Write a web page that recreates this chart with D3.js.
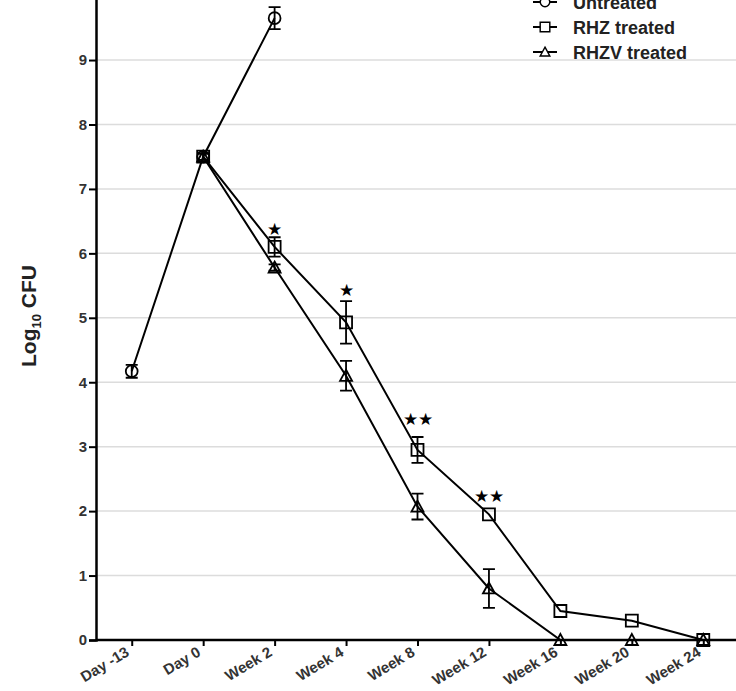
<!DOCTYPE html>
<html>
<head>
<meta charset="utf-8">
<script src="https://cdn.jsdelivr.net/npm/d3@7"></script>
<style>
  body { margin: 0; background: #fff; }
  svg text { font-family: "Liberation Sans", Arial, sans-serif; }
</style>
</head>
<body>
<div class="chart"></div>
<script>
var categories = ["Day -13", "Day 0", "Week 2", "Week 4", "Week 8", "Week 12", "Week 16", "Week 20", "Week 24"];
var yTicks = [0, 1, 2, 3, 4, 5, 6, 7, 8, 9];

// mean log10 CFU and SEM per group
var untreated = [4.17, 7.5, 9.65];
var untreatedErr = [0.1, 0, 0.17];
var untreatedDays = ["Day -13", "Day 0", "Week 2"];

var rhz = [7.5, 6.1, 4.93, 2.95, 1.95, 0.45, 0.3, 0];
var rhzErr = [0.05, 0.15, 0.33, 0.2, 0.03, 0.03, 0.03, 0];
var rhzv = [7.5, 5.78, 4.1, 2.07, 0.8, 0, 0, 0];
var rhzvErr = [0.05, 0.05, 0.23, 0.2, 0.3, 0, 0, 0];
var treatedDays = ["Day 0", "Week 2", "Week 4", "Week 8", "Week 12", "Week 16", "Week 20", "Week 24"];

// significance stars
var starDays = ["Week 2", "Week 4", "Week 8", "Week 12"];
var starLevel = [6.4, 5.45, 3.45, 2.25];
var starCount = [1, 1, 2, 2];

var legendNames = ["Untreated", "RHZ treated", "RHZV treated"];

var width = 736, height = 691;
var svg = d3.select(".chart").append("svg").attr("width", width).attr("height", height);

var x = d3.scalePoint().domain(categories).range([96, 739]).padding(0.5);
var y = d3.scaleLinear().domain([0, 10]).range([640, -4.4]);

// grid
svg.append("g").selectAll("line").data(yTicks.slice(1)).enter().append("line")
    .attr("x1", 97).attr("x2", width)
    .attr("y1", function (d) { return y(d); }).attr("y2", function (d) { return y(d); })
    .attr("stroke", "#dcdcdc").attr("stroke-width", 1.5);

// y axis
var yAxis = svg.append("g").attr("transform", "translate(96,0)")
    .call(d3.axisLeft(y).tickValues(yTicks).tickSize(7).tickPadding(2));
yAxis.select(".domain").attr("stroke-width", 2.5);
yAxis.selectAll(".tick line").attr("stroke-width", 2);
yAxis.selectAll(".tick text").attr("font-size", 15).attr("font-weight", "bold").attr("fill", "#333");

// x axis
var xAxis = svg.append("g").attr("transform", "translate(0,640)")
    .call(d3.axisBottom(x).tickSize(6).tickSizeOuter(0));
xAxis.select(".domain").attr("d", "M96,0H" + width).attr("stroke-width", 2.5);
xAxis.selectAll(".tick line").attr("stroke-width", 2);
xAxis.selectAll(".tick text")
    .attr("font-size", 15).attr("font-weight", "bold").attr("fill", "#333")
    .attr("text-anchor", "end")
    .attr("transform", "translate(-2,15) rotate(-31)")
    .attr("dy", 0).attr("y", 0).attr("x", 0);

// y label
svg.append("text").attr("transform", "translate(36,316) rotate(-90)")
    .attr("text-anchor", "middle").attr("font-size", 21).attr("font-weight", "bold").attr("fill", "#222")
    .html('Log<tspan font-size="13" dy="5">10</tspan><tspan dy="-5"> CFU</tspan>');

var line = d3.line().x(function (d) { return x(d[0]); }).y(function (d) { return y(d[1]); });

function drawSeries(days, vals, errs, shape) {
    var pts = days.map(function (d, i) { return [d, vals[i], errs[i]]; });
    var g = svg.append("g");
    g.append("path").datum(pts).attr("d", line).attr("fill", "none").attr("stroke", "#000").attr("stroke-width", 2);
    pts.forEach(function (p) {
        if (p[2] > 0.04) {
            var cx = x(p[0]), y1 = y(p[1] + p[2]), y2 = y(p[1] - p[2]);
            g.append("path").attr("d", "M" + cx + "," + y1 + "V" + y2 + "M" + (cx - 6) + "," + y1 + "H" + (cx + 6) + "M" + (cx - 6) + "," + y2 + "H" + (cx + 6))
                .attr("stroke", "#000").attr("stroke-width", 1.8).attr("fill", "none");
        }
    });
    g.selectAll(".m").data(pts).enter().append("path")
        .attr("transform", function (d) { return "translate(" + x(d[0]) + "," + y(d[1]) + ")"; })
        .attr("d", shape).attr("fill", "none").attr("stroke", "#000").attr("stroke-width", 1.8);
}

var circleShape = d3.symbol().type(d3.symbolCircle).size(110)();
var squareShape = "M-6,-6H6V6H-6Z";
var triShape = "M0,-6L6,5H-6Z";

drawSeries(untreatedDays, untreated, untreatedErr, circleShape);
drawSeries(treatedDays, rhzv, rhzvErr, triShape);
drawSeries(treatedDays, rhz, rhzErr, squareShape);

// stars
starDays.forEach(function (d, i) {
    var s = starCount[i] === 1 ? "\u2605" : "\u2605\u2605";
    svg.append("text").attr("x", x(d)).attr("y", y(starLevel[i]) + 7)
        .attr("text-anchor", "middle").attr("font-size", 17).attr("fill", "#000")
        .attr("font-family", "DejaVu Sans").text(s);
});

// legend
var legendShapes = [circleShape, squareShape, triShape];
var lg = svg.append("g").attr("transform", "translate(545,2)");
legendNames.forEach(function (n, i) {
    var row = lg.append("g").attr("transform", "translate(0," + (i * 25) + ")");
    row.append("line").attr("x1", -12).attr("x2", 12).attr("stroke", "#000").attr("stroke-width", 2);
    row.append("path").attr("d", legendShapes[i]).attr("transform", "scale(0.8)")
        .attr("fill", "#fff").attr("stroke", "#000").attr("stroke-width", 1.8);
    row.append("text").attr("x", 28).attr("y", 6.5).attr("font-size", 18).attr("font-weight", "bold")
        .attr("fill", "#222").text(n);
});
</script>
</body>
</html>
